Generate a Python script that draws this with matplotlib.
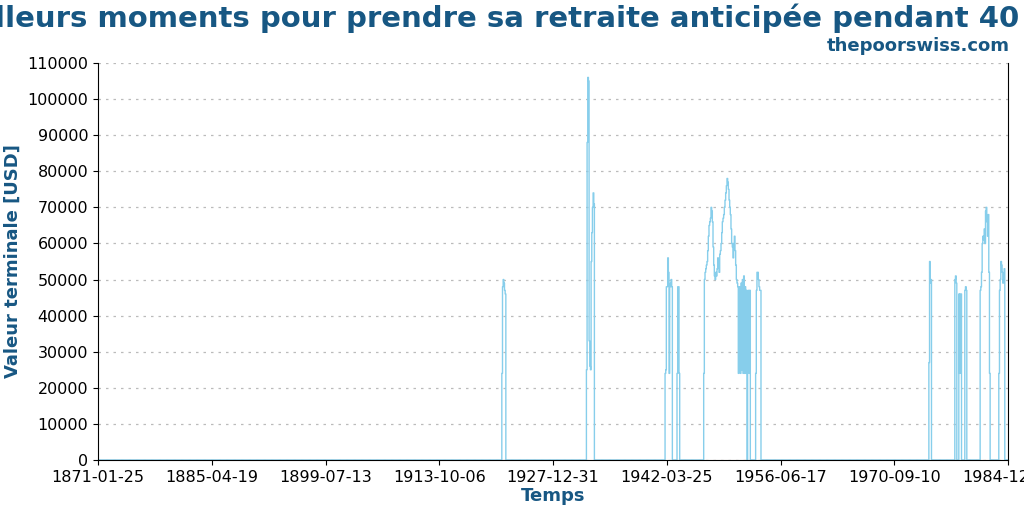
import numpy as np
import pandas as pd
import matplotlib
matplotlib.use("Agg")
import matplotlib.pyplot as plt

title = "Meilleurs moments pour prendre sa retraite anticipée pendant 40 ans"
subtitle = "thepoorswiss.com"
xlabel = "Temps"
ylabel = "Valeur terminale [USD]"
tick_dates = ["1871-01-25", "1885-04-19", "1899-07-13", "1913-10-06", "1927-12-31",
              "1942-03-25", "1956-06-17", "1970-09-10", "1984-12-03"]

# episodes of non-zero terminal values: (start month, monthly values)
ep1_start = "1921-08"
ep1_vals = [24000, 48000, 50000, 49000, 47000, 46000]
ep2_start = "1932-03"
ep2_vals = [25000, 88000, 106000, 105000, 33000, 26000, 25000, 55000, 63000, 70000, 74000, 71000]
ep3_start = "1942-01"
ep3_vals = [24000, 25000, 48000, 48000, 56000, 52000, 24000, 48000, 49000, 50000, 48000,
            0, 0, 0, 0, 0, 0, 0, 24000, 48000, 48000, 24000]
ep4_start = "1946-11"
ep4_vals = [24000, 50000, 52000, 53000, 54000, 55000, 58000, 62000, 65000, 66000, 67000, 70000,
            69000, 66000, 59000, 54000, 51000, 50000, 52000, 51000, 53000, 56000, 55000, 52000,
            57000, 58000, 60000, 63000, 66000, 67000, 68000, 70000, 72000, 74000, 76000, 78000,
            77000, 75000, 72000, 70000, 68000, 64000, 60000, 59000, 56000, 60000, 62000, 58000,
            54000, 50000, 49000, 48000, 24000, 48000, 47000, 24000, 49000, 25000, 50000, 24000,
            51000, 24000, 48000, 24000, 47000, 0, 46000, 47000, 24000, 47000, 0, 0, 0, 0,
            0, 0, 0, 0, 24000, 47000, 52000, 52000, 50000, 48000, 47000, 47000]
ep5_start = "1975-01"
ep5_vals = [27000, 55000, 49000, 50000]
ep6_start = "1978-04"
ep6_vals = [50000, 51000, 49000, 0, 0, 0, 46000, 24000, 46000, 46000, 0, 0, 0, 0, 0,
            47000, 48000, 47000]
ep7_start = "1981-06"
ep7_vals = [47000, 48000, 52000, 60000, 62000, 61000, 64000, 60000, 69000, 70000, 66000,
            62000, 68000, 52000, 24000, 0, 0, 0, 0, 0, 0, 0, 0, 0, 0, 0, 0, 0,
            24000, 47000, 50000, 55000, 54000, 52000, 49000, 50000, 53000]

dates = pd.date_range("1871-01-01", "1984-12-01", freq="MS")
values = pd.Series(0.0, index=dates)
for s, v in [(ep1_start, ep1_vals), (ep2_start, ep2_vals), (ep3_start, ep3_vals),
             (ep4_start, ep4_vals), (ep5_start, ep5_vals), (ep6_start, ep6_vals),
             (ep7_start, ep7_vals)]:
    idx = pd.date_range(s + "-01", periods=len(v), freq="MS")
    idx = idx[idx <= dates[-1]]
    values.loc[idx] = v[:len(idx)]

fig = plt.figure(figsize=(10.24, 5.12), dpi=100)
ax = fig.add_axes([0.0957, 0.1016, 0.889, 0.7754])
ax.step(values.index, values.values, where="post", color="#87CEEB", lw=1)
ax.set_xlim(pd.Timestamp("1871-01-25"), pd.Timestamp("1984-12-10"))
ax.set_ylim(0, 110000)
ax.set_yticks(np.arange(0, 110001, 10000))
ax.set_xticks([pd.Timestamp(d) for d in tick_dates])
ax.set_xticklabels(tick_dates)
ax.tick_params(labelsize=11.5)
ax.grid(axis="y", ls=(0, (2, 4)), color="#bbbbbb", lw=0.9)
ax.spines["top"].set_visible(False)
c = "#175783"
ax.set_xlabel(xlabel, color=c, fontsize=13, fontweight="bold", labelpad=2)
ax.set_ylabel(ylabel, color=c, fontsize=13, fontweight="bold")
fig.text(0.5, 0.965, title, ha="center", va="center", color=c, fontsize=21, fontweight="bold")
fig.text(0.986, 0.91, subtitle, ha="right", va="center", color=c, fontsize=13, fontweight="bold")
fig.savefig("out.png", dpi=100)
